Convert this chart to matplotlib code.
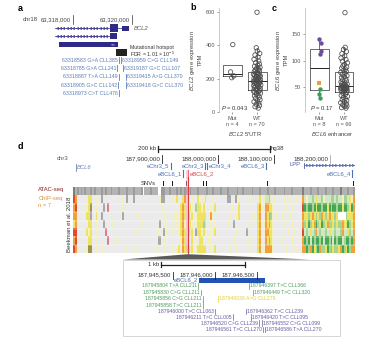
import numpy as np
import matplotlib
matplotlib.use("Agg")
import matplotlib.pyplot as plt
from matplotlib.colors import ListedColormap
from matplotlib.patches import Rectangle, Polygon

plt.rcParams["font.family"] = ["Liberation Sans", "DejaVu Sans"]
plt.rcParams["mathtext.fontset"] = "custom"
plt.rcParams["mathtext.rm"] = "Liberation Sans"
plt.rcParams["mathtext.it"] = "Liberation Sans:italic"

# ---------------- panel a: BCL2 5' region (chr18) ----------------
a_ticks = [63_318_000, 63_320_000]
bcl2_rows_y = [28.3, 36.2, 44.2]
bcl2_introns = [(63_317_390, 63_319_780), (63_317_390, 63_319_300), None]
bcl2_exons = [[(63_319_254, 63_319_536, 4.1), (63_319_651, 63_319_909, 2.4)],
              [(63_319_254, 63_319_500, 2.9)],
              [(63_317_502, 63_319_536, 2.5)]]
hotspot = (63_319_458, 63_319_841)
a_rows_y = [60.0, 68.3, 76.7, 85.0, 93.3]
a_left_labels = ["63318583 G>A CLL385", "63318785 G>A CLL241", "63318887 T>A CLL149",
                 "63318905 G>C CLL142", "63318973 C>T CLL476"]
a_left_pos = [63_319_559, 63_319_502, 63_319_559, 63_319_536, 63_319_570]
a_right_labels = ["63318959 C>G CLL149", "63319187 G>C CLL107",
                  "63319415 A>G CLL370", "63319418 G>C CLL370"]
a_right_pos = [63_319_617, 63_319_685, 63_319_797, 63_319_797]

# ---------------- panel b: BCL2 expression ----------------
mut_b = [405, 240, 216, 205]
mut_b_jit = [0.03, -0.06, 0.07, -0.01]
wt_b = [22, 30, 38, 45, 52, 60, 66, 72, 80, 88, 95, 100, 106, 112, 117, 121, 125,
        128, 132, 136, 140, 144, 148, 152, 155, 158, 161, 164, 167, 170, 173, 176, 179, 182, 184,
        186, 189, 192, 195, 198, 201, 204, 207, 210, 213, 216, 219, 222, 226, 230, 234, 238, 242,
        247, 252, 257, 262, 268, 274, 280, 288, 296, 306, 316, 330, 342, 352, 366, 386, 600]
wt_b_jit = [0.05, -0.08, 0.10, -0.03, 0.07, -0.12, 0.02, 0.12, -0.06, 0.09,
            -0.10, 0.04, -0.02, 0.14, -0.09, 0.06, -0.14, 0.11, -0.04, 0.01,
            0.13, -0.11, 0.08, -0.07, 0.03, -0.13, 0.15, -0.01, 0.06, -0.10,
            0.10, -0.05, 0.12, -0.15, 0.00, 0.09, -0.08, 0.14, -0.03, 0.05,
            -0.12, 0.07, -0.06, 0.11, -0.02, 0.13, -0.09, 0.04, -0.14, 0.08,
            -0.04, 0.02, -0.11, 0.10, -0.07, 0.06, -0.01, 0.12, -0.10, 0.03,
            0.09, -0.05, 0.07, -0.12, 0.04, -0.08, 0.11, 0.01, -0.03, 0.00]

# ---------------- panel c: BCL6 expression ----------------
mut_c = [141, 134, 118, 113, 58, 47, 37, 30]
mut_c_jit = [0.00, 0.08, 0.05, 0.02, -0.02, 0.04, -0.03, 0.01]
mut_c_group = ["eBCL6_1"] * 4 + ["eBCL6_2"] + ["eChr3"] * 3
wt_c = [11, 12, 14, 15, 17, 19, 21, 23, 25, 27, 29, 31, 33, 35, 37, 39,
        41, 42, 43, 44, 45, 46, 46, 47, 48, 48, 49, 49, 50, 50, 51, 51, 52,
        53, 54, 55, 56, 57, 58, 60, 62, 64, 66, 68, 70, 72, 74, 76, 78,
        80, 82, 84, 86, 88, 90, 93, 96, 99, 102, 105, 109, 113, 117, 121, 125, 190]
wt_c_jit = [0.08, -0.10, 0.03, 0.12, -0.05, 0.09, -0.13, 0.01, 0.11, -0.07,
            0.05, -0.02, 0.14, -0.11, 0.06, -0.04, 0.10, -0.08, 0.02, 0.13,
            -0.12, 0.07, -0.01, 0.11, -0.09, 0.04, -0.14, 0.08, -0.03, 0.12,
            -0.06, 0.00, 0.09, -0.11, 0.05, -0.02, 0.13, -0.08, 0.03, -0.12,
            0.10, -0.05, 0.07, -0.10, 0.01, 0.12, -0.07, 0.04, -0.13, 0.09,
            -0.01, 0.06, -0.09, 0.11, -0.04, 0.02, 0.14, -0.06, 0.08, -0.12,
            0.03, -0.08, 0.10, -0.02, 0.05, 0.04]

# ---------------- panel d: BCL6-LPP locus (chr3) ----------------
d_lim = (187_741_070, 188_244_640)
d_ticks = [187_900_000, 188_000_000, 188_100_000, 188_200_000]
scalebar_d = (187_892_000, 188_092_000)
bcl6_tss = 187_745_725
lpp_tss = 188_153_000
enh_names = ["eChr3_5", "eChr3_3", "eChr3_4", "eBCL6_3", "eBCL6_1", "eBCL6_2", "eBCL6_4"]
enh_pos = [187_916_070, 187_977_300, 187_980_400, 188_086_600, 187_938_000, 187_946_000, 188_240_000]
enh_row = [0, 0, 0, 0, 1, 1, 1]
enh_side = ["L", "L", "R", "L", "L", "R", "L"]
snv_pos = [187_901_250, 187_917_300, 187_942_000, 187_946_500, 187_973_700, 187_978_000,
           188_087_000, 188_241_600]

atac = ("4232323223" "2322232322" "3222322232" "2232223 22" "23222  332"
        "2322232323" "3232223222" "2322322232" "2232222322" "3222232223"
        "2223222322" "2232223222" "2242223222" "3222322232" "2242223223")

chrom_states = [
    ("ro......yy" "..Y..k...." "......Y.k." "..k......." "......Ykk."
     "..Y..y..yo" ".Y.Y..yY.Y" "y...Y....." "..kk..k.Y." "....Y...Yy"
     ".YllgY.Y.." "..Y..Y..Y." "..olYllgly" "llgYlllggl" "gllYgglyYo"),
    ("or.....Yyd" "..Y...k.p." "......Y..." ".........." ".......Y.."
     "....Y..yoy" ".YyY.gyyYy" "...Y.y...." "....Y...y." "........yo"
     "Y.ooyyY..." "...Y..Y..." "..rGgGGgGy" "GGgGGyGgGG" "gGGyGGgyGo"),
    ("oo.....yyk" "..y..k...." "......k..." "....Y....." "........Y."
     "...Y.Y.yoy" ".yYy.Yyyyy" "y..oY....." "...Y..Y.y." "......Y.yo"
     "..oyogY.Y." ".Y...Y...." "..oyygyoyg" "ygoygyoyyg" "ywwwwgyyyo"),
    ("yo......yy" "..Y...k..." ".Y........" "......Y..." "......k.Y."
     "..Y..Y.yoY" ".YyY.Yyyyg" "y..Y.Y...." "..Y..k...." "....Y...yo"
     ".YoyoyY..." "..Y...Y..." "..ogyGgyoG" "gyGgyoggyg" "yggoyyGgyo"),
    ("rr.....yYy" "..Y....p.." ".........." "...Y......" ".....Y..kY"
     "..Y...Yyoy" ".yYy.kyyYy" "...Y.y...." "......Y..." "..k.....yo"
     ".YooyyY..." "....Y..Y.." "..rlglylgo" "lgllglyllg" "llgollyglo"),
    ("or......yy" "..Y.....p." "...Y......" ".........." ".....kk.Y."
     "....Y..Yoy" ".Y.y.Y.yy." "..YY......" ".....Y...." "...Y....yo"
     "..oyoyY..." ".Y....Y..." "..oGgGlGgG" "GgGlGGgGlG" "gGGlgGGgGo"),
    ("ro.....Ydd" "..Y..Y...." "........Y." "...Y......" "....Y...Y."
     "..Y..Yy.oy" "yyYy.Yyyyy" "y..Y.y...." "...Y..Y..." "....Y...yo"
     ".YooooY..." "...Y...Y.." "..ooGgoGyg" "GoggyGgoyg" "gyoGgyGgoo"),
]
state_codes = ".YyorlgGkdpw"
state_colors = ["#ebebeb", "#f4f0bc", "#ede35e", "#f2a13a", "#e04a2c", "#cfe7c2",
                "#a2d493", "#46a656", "#a8a8a8", "#a39352", "#dc8088", "#ffffff"]

# ---------------- inset: eBCL6_2 ----------------
i_lim = (187_944_914, 187_947_475)
i_ticks = [187_945_500, 187_946_000, 187_946_500]
ebcl6_2 = (187_945_815, 187_946_590)
i_muts = [
    ("187945804 T>A CLL211", 187945804, "L", 285.7, "green"),
    ("187945830 C>G CLL211", 187945830, "L", 292.3, "green"),
    ("187945856 C>G CLL211", 187945856, "L", 298.9, "green"),
    ("187945858 T>C CLL211", 187945858, "L", 305.0, "green"),
    ("187946397 T>C CLL366", 187946397, "R", 285.7, "green"),
    ("187946449 T>C CLL320", 187946449, "R", 292.3, "green"),
    ("187946039 A>G CLL279", 187946039, "R", 298.9, "yellow"),
    ("187946000 T>C CLL063", 187946000, "L", 311.3, "purple"),
    ("187946211 T>C CLL005", 187946211, "L", 317.0, "purple"),
    ("187946520 C>G CLL239", 187946520, "L", 323.2, "purple"),
    ("187946561 T>C CLL270", 187946561, "L", 329.3, "purple"),
    ("187946362 T>C CLL239", 187946362, "R", 311.3, "purple"),
    ("187946420 T>C CLL095", 187946420, "R", 317.0, "purple"),
    ("187946552 C>G CLL099", 187946552, "R", 323.2, "purple"),
    ("187946586 T>A CLL270", 187946586, "R", 329.3, "purple"),
]

group_colors = {"green": "#4f9a5a", "yellow": "#e3cf3c", "purple": "#6a5aa0",
                "eBCL6_1": "#6b4f9e", "eBCL6_2": "#e8a030", "eChr3": "#3f9a5b"}

W, H = 377, 340
fig = plt.figure(figsize=(W / 100, H / 100), dpi=100)


def rect(x0, y0, x1, y1):
    return [x0 / W, 1 - y1 / H, (x1 - x0) / W, (y1 - y0) / H]


canvas = fig.add_axes([0, 0, 1, 1])
canvas.set_xlim(0, W)
canvas.set_ylim(H, 0)
canvas.axis("off")

for letter, (x, y) in zip("abcd", [(20.7, 8.5), (193, 8.0), (274.5, 8.5), (20.7, 146.7)]):
    canvas.text(x, y, letter, fontsize=6.5, fontweight="bold", ha="center", va="center")

# ---- a ----
navy = "#2f2a86"
mut_blue = "#5a7db5"
ax_a = fig.add_axes(rect(20, 10, 190, 100))
ax_a.set_xlim(63_316_190, 63_321_970)
ax_a.set_ylim(100, 10)
ax_a.axis("off")
bp_a = (63_321_970 - 63_316_190) / 170

canvas.text(22.5, 19.5, "chr18", fontsize=4.3, color="#444", va="center")
for t in a_ticks:
    ax_a.plot([t, t], [15, 23.5], color="#333", lw=0.5)
    ax_a.text(t - 2.2 * bp_a, 19.5, f"{t:,}", ha="right", va="center", fontsize=4.3, color="#444")

for y, intr, exons in zip(bcl2_rows_y, bcl2_introns, bcl2_exons):
    if intr:
        ax_a.plot(intr, [y, y], color=navy, lw=0.5)
        xs = np.arange(intr[0] + 1.5 * bp_a, exons[0][0] - bp_a, 3.3 * bp_a)
        ax_a.plot(xs, np.full(len(xs), y), ls="none", marker="<", ms=1.7,
                  mfc="none", mec=navy, mew=0.4)
    for s, e, h in exons:
        ax_a.add_patch(Rectangle((s, y - h), e - s, 2 * h, color=navy, lw=0))
ax_a.text(bcl2_exons[2][0][1] - 5 * bp_a, bcl2_rows_y[2], "<<", color="white",
          fontsize=3, ha="center", va="center")
ax_a.text(bcl2_exons[0][1][1] + 4.5 * bp_a, bcl2_rows_y[0], "BCL2", fontsize=4.2,
          style="italic", color="#555", va="center")

ax_a.add_patch(Rectangle((hotspot[0], 49.3), hotspot[1] - hotspot[0], 6.7, color="#222", lw=0))
canvas.text(130, 47.6, "Mutational hotspot", fontsize=3.8, color="#333", va="center")
canvas.text(130, 54.2, "FDR = 1.01 × 10$^{-5}$", fontsize=3.8, color="#333", va="center")

for lab, pos, y in zip(a_left_labels, a_left_pos, a_rows_y):
    ax_a.plot([pos, pos], [y - 3, y + 3], color=mut_blue, lw=0.6)
    ax_a.text(pos - 1.3 * bp_a, y, lab, ha="right", va="center", fontsize=3.8, color=mut_blue)
for lab, pos, y in zip(a_right_labels, a_right_pos, a_rows_y):
    ax_a.plot([pos, pos], [y - 3, y + 3], color=mut_blue, lw=0.6)
    ax_a.text(pos + 1.3 * bp_a, y, lab, ha="left", va="center", fontsize=3.8, color=mut_blue)


# ---- b and c ----
def expr_axes(box_px, ylim, yticks, xlim):
    ax = fig.add_axes(rect(*box_px))
    ax.set_xlim(*xlim)
    ax.set_ylim(*ylim)
    for s in ["top", "right", "bottom"]:
        ax.spines[s].set_visible(False)
    ax.spines["left"].set_color("#b5b5b5")
    ax.spines["left"].set_linewidth(0.5)
    ax.set_yticks(yticks)
    ax.tick_params(axis="both", labelsize=4, colors="#555", length=1.5, width=0.4, pad=1.5)
    return ax


def draw_boxes(ax, groups):
    ax.boxplot(groups, positions=[0, 1], widths=0.76, showfliers=False, showcaps=False,
               medianprops=dict(color="#222", lw=0.7),
               boxprops=dict(color="#333", lw=0.5),
               whiskerprops=dict(color="#333", lw=0.5))


pt = dict(s=10, facecolors="none", edgecolors="#4a4a4a", linewidths=0.55, zorder=3)

ax_b = expr_axes((219.3, 8, 272, 112), (-2, 626), [0, 200, 400, 600], (-0.51, 1.6))
draw_boxes(ax_b, [mut_b, wt_b])
ax_b.scatter(np.array(mut_b_jit), mut_b, **pt)
ax_b.scatter(1 + np.array(wt_b_jit), wt_b, **pt)
ax_b.set_xticks([0, 1], ["Mut\nn = 4", "WT\nn = 70"])
ax_b.set_xlabel("$\\it{BCL2}$ 5\u2032UTR", fontsize=4.2, color="#444", labelpad=2)
ax_b.set_ylabel("$\\it{BCL2}$ gene expression\nTPM", fontsize=4.2, color="#444",
                labelpad=2, linespacing=1.1)
ax_b.text(-0.44, 20, "$\\it{P}$ = 0.043", fontsize=4.2, color="#333", va="center")

ax_c = expr_axes((305, 8, 360, 112), (3.75, 198.75), [50, 100, 150], (-0.58, 1.65))
draw_boxes(ax_c, [mut_c, wt_c])
ax_c.scatter(1 + np.array(wt_c_jit), wt_c, **pt)
for v, j, g in zip(mut_c, mut_c_jit, mut_c_group):
    ax_c.scatter([j], [v], s=10, color=group_colors[g], marker="s" if g == "eBCL6_2" else "o",
                 linewidths=0, zorder=3)
ax_c.set_xticks([0, 1], ["Mut\nn = 8", "WT\nn = 66"])
ax_c.set_xlabel("$\\it{BCL6}$ enhancer", fontsize=4.2, color="#444", labelpad=2)
ax_c.set_ylabel("$\\it{BCL6}$ gene expression\nTPM", fontsize=4.2, color="#444",
                labelpad=2, linespacing=1.1)
ax_c.text(-0.38, 11, "$\\it{P}$ = 0.17", fontsize=4.2, color="#333", va="center")

# ---- d ----
ax_d = fig.add_axes(rect(73, 145, 355, 256))
ax_d.set_xlim(*d_lim)
ax_d.set_ylim(256, 145)
ax_d.axis("off")
bp_d = (d_lim[1] - d_lim[0]) / 282

ax_d.plot(scalebar_d, [149, 149], color="#222", lw=0.9, clip_on=False)
for x in scalebar_d:
    ax_d.plot([x, x], [146, 152], color="#222", lw=0.9, clip_on=False)
ax_d.text(scalebar_d[0] - 2 * bp_d, 149, "200 kb", ha="right", va="center", fontsize=4.3, color="#333")
ax_d.text(scalebar_d[1] + 1.5 * bp_d, 148.3, "hg38", ha="left", va="center", fontsize=4.3, color="#333")

canvas.text(57, 158.5, "chr3", fontsize=4.3, color="#555", va="center")
for t in d_ticks:
    ax_d.plot([t, t], [154.5, 162.5], color="#222" if t < 188_200_000 else "#aaa", lw=0.6)
    ax_d.text(t - 2 * bp_d, 158.5, f"{t:,}", ha="right", va="center", fontsize=4.5, color="#333")

gene_col = "#7080b0"
ax_d.plot([bcl6_tss, bcl6_tss], [164, 170.5], color=gene_col, lw=0.6, clip_on=False)
ax_d.text(bcl6_tss + 1.5 * bp_d, 167.3, "BCL6", fontsize=4.2, style="italic", color=gene_col, va="center")

lpp_col = "#4a5aa8"
ax_d.plot([lpp_tss, lpp_tss], [162.5, 167.5], color=lpp_col, lw=0.6)
ax_d.plot([lpp_tss, d_lim[1] - bp_d], [165, 165], color=lpp_col, lw=0.5)
xs = np.arange(lpp_tss + 3 * bp_d, d_lim[1] - bp_d, 3.3 * bp_d)
ax_d.plot(xs, np.full(len(xs), 165), ls="none", marker=">", ms=1.7, mfc="none", mec=lpp_col, mew=0.4)
ax_d.text(lpp_tss - 3 * bp_d, 165, "LPP", ha="right", va="center", fontsize=4.2, color=lpp_col)

enh_y = [166.2, 173.6]
for name, pos, row, side in zip(enh_names, enh_pos, enh_row, enh_side):
    col = "#d9404f" if name == "eBCL6_2" else "#4a70b5"
    y = enh_y[row]
    ax_d.plot([pos, pos], [y - 3.2, y + 3.2], color=col, lw=0.8)
    if side == "L":
        ax_d.text(pos - 1.5 * bp_d, y, name, ha="right", va="center", fontsize=4.2, color=col)
    else:
        ax_d.text(pos + 1.5 * bp_d, y, name, ha="left", va="center", fontsize=4.2, color=col)

canvas.text(156, 183.3, "SNVs", ha="right", va="center", fontsize=4.2, color="#333")
for p in snv_pos:
    ax_d.plot([p, p], [181.3, 185.3], color="#111", lw=0.7)

# ATAC-seq track
atac_vals = [np.nan if c == " " else int(c) for c in atac]
atac_cmap = ListedColormap(["#c9c9c9", "#b3b3b3", "#9b9b9b", "#7e7e7e"])
atac_cmap.set_bad("white")
ax_d.imshow(np.array([atac_vals], dtype=float), cmap=atac_cmap, vmin=0.5, vmax=4.5,
            extent=(d_lim[0], d_lim[1], 195, 187), aspect="auto", interpolation="nearest")

# chromatin state heatmap, one row per sample
state_idx = np.array([[state_codes.index(c) for c in row.ljust(150, ".")[:150]]
                      for row in chrom_states])
ax_d.imshow(state_idx, cmap=ListedColormap(state_colors), vmin=-0.5, vmax=len(state_colors) - 0.5,
            extent=(d_lim[0], d_lim[1], 253.3, 196), aspect="auto", interpolation="nearest")
row_h = (253.3 - 196) / len(chrom_states)
for k in range(1, len(chrom_states)):
    ax_d.axhline(196 + k * row_h, color="white", lw=0.3)

canvas.text(38.3, 190, "ATAC-seq", fontsize=4.2, color="#8b2020", va="center")
canvas.text(38.3, 198.3, "ChIP-seq", fontsize=4.2, color="#e0903a", va="center")
canvas.text(38.3, 205.7, "n = 7", fontsize=4.2, color="#e0903a", va="center")
canvas.text(69.5, 224.7, "Beekman et al. 2018", fontsize=4.3, color="#333", rotation=90,
            ha="center", va="center")

# highlighted enhancer eBCL6_2
hl = enh_pos[enh_names.index("eBCL6_2")]
ax_d.add_patch(Rectangle((hl - 1.6 * bp_d, 169.5), 3.2 * bp_d, 253.3 - 169.5,
                         facecolor="#f2a6b8", alpha=0.5, edgecolor="none", zorder=4))
ax_d.plot([hl, hl], [177, 253.3], color="#e03845", lw=0.8, zorder=5)

# zoom wedge and inset frame
canvas.add_patch(Polygon([(123, 259.5), (187.7, 254.2), (310, 259.5)], closed=True,
                         facecolor="#5a5a5a", edgecolor="none"))
canvas.add_patch(Rectangle((123, 259.5), 217, 76, facecolor="white", edgecolor="#cfcfcf", lw=0.6))

# ---- inset ----
ax_i = fig.add_axes(rect(123, 259.5, 340, 335.5))
ax_i.set_xlim(*i_lim)
ax_i.set_ylim(335.5, 259.5)
ax_i.axis("off")
bp_i = (i_lim[1] - i_lim[0]) / 217

sb0 = i_lim[0] + 37.7 * bp_i
ax_i.plot([sb0, sb0 + 1000], [264.7, 264.7], color="#222", lw=0.9)
for x in [sb0, sb0 + 1000]:
    ax_i.plot([x, x], [262, 267.4], color="#222", lw=0.9)
ax_i.text(sb0 - 1.5 * bp_i, 264.7, "1 kb", ha="right", va="center", fontsize=4.2, color="#333")

for t in i_ticks:
    ax_i.plot([t, t], [271.5, 278.5], color="#222", lw=0.6)
    ax_i.text(t - 2 * bp_i, 275, f"{t:,}", ha="right", va="center", fontsize=4.3, color="#333")

ax_i.add_patch(Rectangle((ebcl6_2[0], 277.5), ebcl6_2[1] - ebcl6_2[0], 5.2, color="#2152b4", lw=0))
ax_i.text(ebcl6_2[0] - 1.5 * bp_i, 280, "eBCL6_2", ha="right", va="center", fontsize=4.2, color="#4a70b5")

for lab, pos, side, y, grp in i_muts:
    col = group_colors[grp]
    ax_i.plot([pos, pos], [y - 2.8, y + 2.8], color=col, lw=0.5)
    if side == "L":
        ax_i.text(pos - 1 * bp_i, y, lab, ha="right", va="center", fontsize=3.7, color=col)
    else:
        ax_i.text(pos + 1 * bp_i, y, lab, ha="left", va="center", fontsize=3.7, color=col)

fig.savefig("out.png", dpi=100)
